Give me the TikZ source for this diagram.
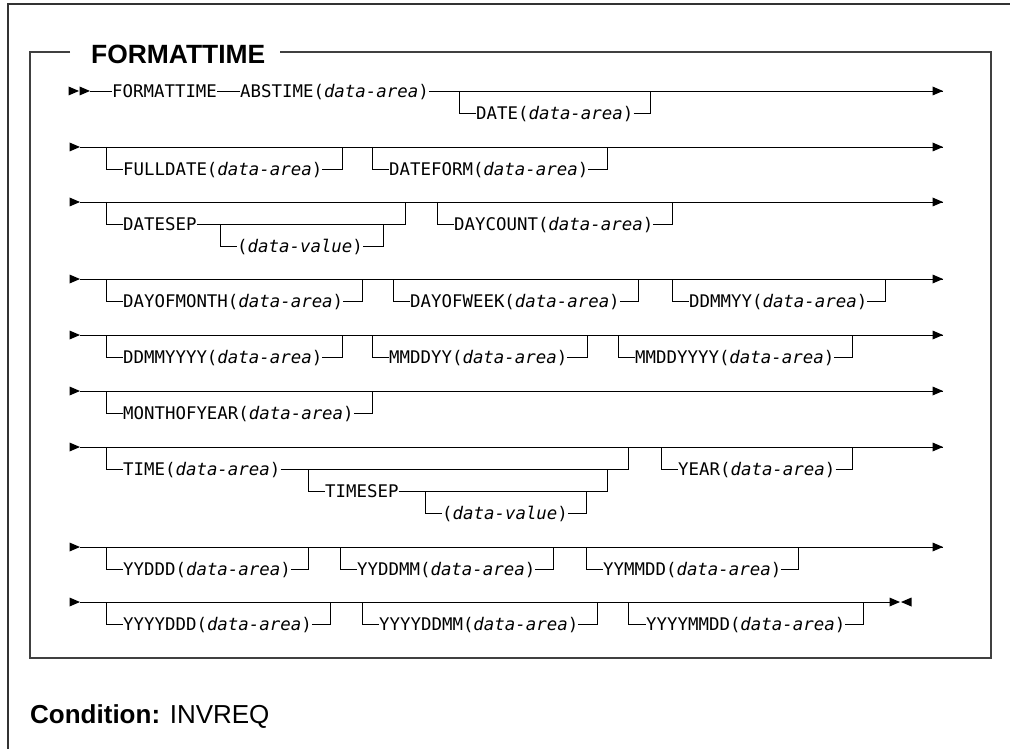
\documentclass[tikz,border=0pt]{standalone}
\usepackage{fontspec}
\setmainfont{Liberation Sans}
\newfontfamily\dmono{DejaVu Sans Mono}[ItalicFont={DejaVu Sans Mono Oblique}]
\newcommand\da{\textit{data-area}}
\newcommand\optbranch[7]{%
  \node[lbl] (#1) at (#5,#4) {#7};
  \draw[rail] (#2,#3) |- (#1.west);
  \draw[rail] (#1.east) -| (#6,#3);
}
\newcommand\mainrow[2]{%
  \coordinate (s#1) at (80,#2);
  \coordinate (e#1) at (943,#2);
  \pic at (s#1) {rtri};
  \draw[rail] (s#1) -- (e#1);
  \pic at (e#1) {rtri};
}
\tikzset{
  lbl/.style={font=\dmono\fontsize{17.4pt}{20pt}\selectfont, inner sep=0pt, text height=12.6pt, text depth=0pt, anchor=west},
  ttl/.style={font=\fontsize{26.4pt}{30pt}\selectfont\bfseries, inner sep=0pt, text height=18.9pt, text depth=0pt, anchor=west},
  cond/.style={font=\fontsize{26pt}{30pt}\selectfont, inner sep=0pt, text height=18.6pt, text depth=0pt, anchor=west},
  rail/.style={line width=0.9pt, black},
  boxline/.style={line width=1.5pt, black!75},
  outerline/.style={line width=1.3pt, black!80},
  rtri/.pic={\fill[black] (0,0) -- (-10.5,-4.5) -- (-10.5,4.5) -- cycle;},
  ltri/.pic={\fill[black] (0,0) -- (10.5,-4.5) -- (10.5,4.5) -- cycle;}
}
\begin{document}
\begin{tikzpicture}[x=1pt,y=-1pt]
\useasboundingbox (0,0) rectangle (1010,749);
% outer frame
\draw[outerline] (8,749) -- (8,4) -- (1010,4);
% inner box with title
\node[ttl] (title) at (91,54) {FORMATTIME};
\draw[boxline] (70,52) -- (30,52) -- (30,658) -- (991,658) -- (991,52) -- (280,52);
% condition
\node[cond] (condition) at (30,714) {\textbf{Condition:} INVREQ};

% ---- Row 1
\coordinate (s1) at (90,91);
\coordinate (e1) at (943,91);
\pic at (79,91) {rtri};
\pic at (s1) {rtri};
\node[lbl] (fmt) at (112,91) {FORMATTIME};
\node[lbl] (abs) at (240,91) {ABSTIME(\da)};
\draw[rail] (s1) -- (fmt.west);
\draw[rail] (fmt.east) -- (abs.west);
\draw[rail] (abs.east) -- (e1);
\pic at (e1) {rtri};
\optbranch{date}{459}{91}{113}{476}{650}{DATE(\da)}

% ---- Row 2
\mainrow{2}{147}
\optbranch{fulldate}{106}{147}{169}{123}{342}{FULLDATE(\da)}
\optbranch{dateform}{372}{147}{169}{389}{607}{DATEFORM(\da)}

% ---- Row 3
\mainrow{3}{202}
\optbranch{datesep}{106}{202}{224}{123}{405}{DATESEP}
\optbranch{dsval}{220}{224}{246}{237}{383}{(\textit{data-value})}
\optbranch{daycount}{437}{202}{224}{454}{672}{DAYCOUNT(\da)}

% ---- Row 4
\mainrow{4}{279}
\optbranch{dayofmonth}{106}{279}{301}{123}{362}{DAYOFMONTH(\da)}
\optbranch{dayofweek}{393}{279}{301}{410}{638}{DAYOFWEEK(\da)}
\optbranch{ddmmyy}{672}{279}{301}{689}{885}{DDMMYY(\da)}

% ---- Row 5
\mainrow{5}{335}
\optbranch{ddmmyyyy}{106}{335}{357}{123}{342}{DDMMYYYY(\da)}
\optbranch{mmddyy}{372}{335}{357}{389}{587}{MMDDYY(\da)}
\optbranch{mmddyyyy}{618}{335}{357}{635}{852}{MMDDYYYY(\da)}

% ---- Row 6
\mainrow{6}{391}
\optbranch{monthofyear}{106}{391}{413}{123}{372}{MONTHOFYEAR(\da)}

% ---- Row 7
\mainrow{7}{447}
\optbranch{time}{106}{447}{469}{123}{628}{TIME(\da)}
\optbranch{timesep}{308}{469}{491}{325}{607}{TIMESEP}
\optbranch{tsval}{425}{491}{513}{442}{586}{(\textit{data-value})}
\optbranch{year}{661}{447}{469}{678}{852}{YEAR(\da)}

% ---- Row 8
\mainrow{8}{547}
\optbranch{yyddd}{106}{547}{569}{123}{308}{YYDDD(\da)}
\optbranch{yyddmm}{340}{547}{569}{357}{553}{YYDDMM(\da)}
\optbranch{yymmdd}{586}{547}{569}{603}{798}{YYMMDD(\da)}

% ---- Row 9
\coordinate (s9) at (80,602);
\coordinate (e9) at (890,602);
\pic at (s9) {rtri};
\draw[rail] (s9) -- (e9);
\pic at (900,602) {rtri};
\pic at (901,602) {ltri};
\optbranch{yyyyddd}{106}{602}{624}{123}{330}{YYYYDDD(\da)}
\optbranch{yyyyddmm}{362}{602}{624}{379}{597}{YYYYDDMM(\da)}
\optbranch{yyyymmdd}{628}{602}{624}{646}{863}{YYYYMMDD(\da)}
\end{tikzpicture}
\end{document}
